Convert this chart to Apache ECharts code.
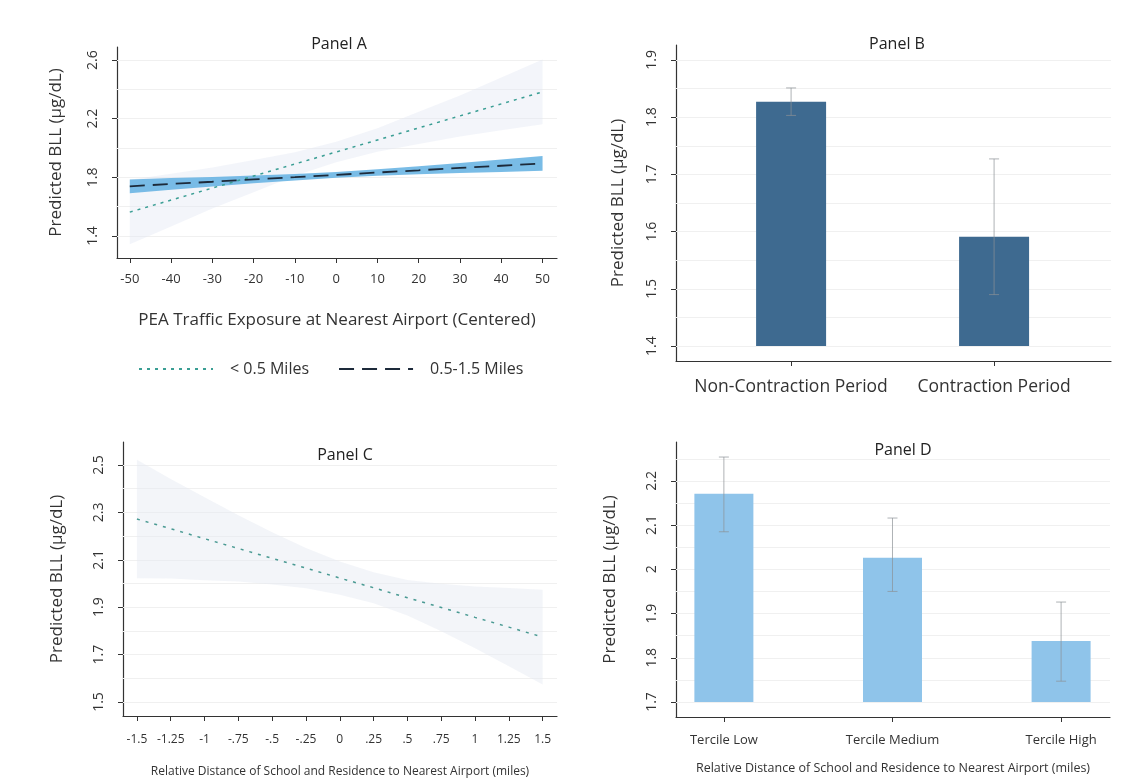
<!DOCTYPE html>
<html>
<head>
<meta charset="utf-8">
<script src="https://cdn.jsdelivr.net/npm/echarts@6.0.0/dist/echarts.min.js"></script>
<style>
html, body { margin: 0; padding: 0; background: #fff; }
#main { width: 1143px; height: 784px; }
</style>
</head>
<body>
<div id="main"></div>
<script>
// Panel A - PEA traffic exposure
var exposureA = [-50, -40, -30, -20, -10, 0, 10, 20, 30, 40, 50];
var nearA = [1.563, 1.645, 1.727, 1.809, 1.891, 1.973, 2.055, 2.137, 2.219, 2.301, 2.383];
var nearLowA = [1.343, 1.465, 1.587, 1.699, 1.811, 1.903, 1.975, 2.027, 2.079, 2.121, 2.163];
var nearHighA = [1.783, 1.825, 1.867, 1.919, 1.971, 2.043, 2.135, 2.247, 2.359, 2.481, 2.603];
var farA = [1.739, 1.755, 1.770, 1.786, 1.801, 1.817, 1.833, 1.848, 1.864, 1.879, 1.895];
var farLowA = [1.692, 1.715, 1.737, 1.759, 1.779, 1.797, 1.811, 1.821, 1.830, 1.837, 1.845];
var farHighA = [1.786, 1.795, 1.803, 1.813, 1.823, 1.837, 1.855, 1.875, 1.898, 1.921, 1.945];
var yTicksA = [1.4, 1.8, 2.2, 2.6];
var gridLinesA = [1.4, 1.6, 1.8, 2.0, 2.2, 2.4, 2.6];

// Panel B - contraction period
var periodsB = ['Non-Contraction Period', 'Contraction Period'];
var bllB = [1.827, 1.591];
var bllLowB = [1.803, 1.49];
var bllHighB = [1.851, 1.727];
var baseB = 1.4;
var yTicksB = [1.4, 1.5, 1.6, 1.7, 1.8, 1.9];
var gridLinesB = [1.4, 1.45, 1.5, 1.55, 1.6, 1.65, 1.7, 1.75, 1.8, 1.85, 1.9];

// Panel C - relative distance
var distanceC = [-1.5, -1.25, -1, -0.75, -0.5, -0.25, 0, 0.25, 0.5, 0.75, 1, 1.25, 1.5];
var distanceLabelsC = ['-1.5', '-1.25', '-1', '-.75', '-.5', '-.25', '0', '.25', '.5', '.75', '1', '1.25', '1.5'];
var bllC = [2.272, 2.231, 2.189, 2.148, 2.106, 2.065, 2.023, 1.982, 1.940, 1.899, 1.857, 1.816, 1.774];
var bllLowC = [2.022, 2.021, 2.014, 2.008, 1.996, 1.980, 1.953, 1.917, 1.865, 1.799, 1.727, 1.651, 1.574];
var bllHighC = [2.522, 2.441, 2.364, 2.288, 2.216, 2.150, 2.093, 2.047, 2.015, 1.999, 1.987, 1.981, 1.974];
var yTicksC = [1.5, 1.7, 1.9, 2.1, 2.3, 2.5];
var gridLinesC = [1.5, 1.6, 1.7, 1.8, 1.9, 2.0, 2.1, 2.2, 2.3, 2.4, 2.5];

// Panel D - terciles
var tercilesD = ['Tercile Low', 'Tercile Medium', 'Tercile High'];
var bllD = [2.171, 2.026, 1.838];
var bllLowD = [2.085, 1.95, 1.747];
var bllHighD = [2.254, 2.116, 1.926];
var baseD = 1.7;
var yTicksD = [1.7, 1.8, 1.9, 2.0, 2.1, 2.2];
var gridLinesD = [1.7, 1.75, 1.8, 1.85, 1.9, 1.95, 2.0, 2.05, 2.1, 2.15, 2.2, 2.25];

var FONT = 'Open Sans';
var yName = 'Predicted BLL (\u03bcg/dL)';
var xNameCD = 'Relative Distance of School and Residence to Nearest Airport (miles)';

function pairs(xs, ys) {
	return xs.map(function(x, i) { return [x, ys[i]]; });
}

var axisLine = { onZero: false, lineStyle: { color: '#333', width: 1.2 } };
var axisTickStyle = { length: 5, lineStyle: { color: '#333' } };

function yAxis(grid, min, max, ticks, gap) {
	return {
		type: 'value', gridIndex: grid, min: min, max: max,
		name: yName, nameLocation: 'middle', nameGap: gap,
		nameTextStyle: { fontSize: 17, color: '#333', fontFamily: FONT },
		axisLine: Object.assign({ show: true }, axisLine),
		axisTick: Object.assign({ show: true, customValues: ticks }, axisTickStyle),
		axisLabel: { customValues: ticks, rotate: 90, margin: 17, fontSize: 14, color: '#333', fontFamily: FONT },
		splitLine: { show: false }
	};
}

function gridSeries(x, y, values) {
	return {
		type: 'line', xAxisIndex: x, yAxisIndex: y, data: [], silent: true,
		markLine: {
			silent: true, symbol: 'none', z: 1, animation: false,
			label: { show: false },
			lineStyle: { color: '#f0f0f0', type: 'solid', width: 1 },
			data: values.map(function(v) { return { yAxis: v }; })
		}
	};
}

// confidence band drawn as one polygon through the axis scales
function bandSeries(x, y, xs, lo, hi, color) {
	return {
		type: 'custom', xAxisIndex: x, yAxisIndex: y, z: 2, silent: true,
		data: xs.map(function(v, i) { return [v, lo[i], hi[i]]; }),
		renderItem: function(params, api) {
			if (params.dataIndex !== 0) return null;
			var pts = [];
			for (var i = 0; i < xs.length; i++) pts.push(api.coord([xs[i], hi[i]]));
			for (var j = xs.length - 1; j >= 0; j--) pts.push(api.coord([xs[j], lo[j]]));
			return { type: 'polygon', shape: { points: pts }, style: { fill: color } };
		}
	};
}

function barSeries(x, y, values, base, width, color) {
	return {
		type: 'custom', xAxisIndex: x, yAxisIndex: y, z: 2, silent: true,
		data: values.map(function(v, i) { return [i + 1, v, base]; }),
		renderItem: function(params, api) {
			var top = api.coord([api.value(0), api.value(1)]);
			var bot = api.coord([api.value(0), api.value(2)]);
			return {
				type: 'rect',
				shape: { x: top[0] - width / 2, y: top[1], width: width, height: bot[1] - top[1] },
				style: { fill: color }
			};
		}
	};
}

function errorSeries(x, y, lo, hi) {
	return {
		type: 'custom', xAxisIndex: x, yAxisIndex: y, z: 3, silent: true,
		data: lo.map(function(v, i) { return [i + 1, v, hi[i]]; }),
		renderItem: function(params, api) {
			var a = api.coord([api.value(0), api.value(2)]);
			var b = api.coord([api.value(0), api.value(1)]);
			var st = { stroke: 'rgba(140,145,150,0.7)', lineWidth: 1 };
			return {
				type: 'group',
				children: [
					{ type: 'line', shape: { x1: a[0], y1: a[1], x2: b[0], y2: b[1] }, style: st },
					{ type: 'line', shape: { x1: a[0] - 5, y1: a[1], x2: a[0] + 5, y2: a[1] }, style: st },
					{ type: 'line', shape: { x1: b[0] - 5, y1: b[1], x2: b[0] + 5, y2: b[1] }, style: st }
				]
			};
		}
	};
}

var titleStyle = { fontSize: 16, fontWeight: 'normal', color: '#222', fontFamily: FONT };

var option = {
	animation: false,
	backgroundColor: '#fff',
	title: [
		{ text: 'Panel A', left: 334, top: 31, textAlign: 'center', textStyle: titleStyle },
		{ text: 'Panel B', left: 892, top: 31, textAlign: 'center', textStyle: titleStyle },
		{ text: 'Panel C', left: 340, top: 442, textAlign: 'center', textStyle: titleStyle },
		{ text: 'Panel D', left: 898, top: 437, textAlign: 'center', textStyle: titleStyle }
	],
	legend: {
		data: ['< 0.5 Miles', '0.5-1.5 Miles'],
		left: 133, top: 356,
		itemWidth: 74, itemHeight: 4, itemGap: 29,
		itemStyle: { opacity: 0 },
		textStyle: { fontSize: 16, color: '#333', fontFamily: FONT, padding: [0, 0, 0, 12] }
	},
	grid: [
		{ left: 117, right: 586, top: 47, bottom: 526 },
		{ left: 676, right: 32, top: 45, bottom: 423 },
		{ left: 123, right: 586, top: 442, bottom: 68 },
		{ left: 676, right: 33, top: 442, bottom: 67 }
	],
	xAxis: [{
		type: 'value', gridIndex: 0, min: -53.1, max: 53.5,
		name: 'PEA Traffic Exposure at Nearest Airport (Centered)',
		nameLocation: 'middle', nameGap: 54,
		nameTextStyle: { fontSize: 17, color: '#333', fontFamily: FONT, verticalAlign: 'top' },
		axisLine: axisLine,
		axisTick: Object.assign({ customValues: exposureA }, axisTickStyle),
		axisLabel: { customValues: exposureA, margin: 15, fontSize: 13, color: '#333', fontFamily: FONT },
		splitLine: { show: false }
	}, {
		type: 'value', gridIndex: 1, min: 0.433, max: 2.576,
		axisLine: axisLine,
		axisTick: Object.assign({ customValues: [1, 2] }, axisTickStyle),
		axisLabel: {
			customValues: [1, 2], margin: 17, fontSize: 17.5, color: '#333', fontFamily: FONT,
			formatter: function(v) { return periodsB[Math.round(v) - 1]; }
		},
		splitLine: { show: false }
	}, {
		type: 'value', gridIndex: 2, min: -1.603, max: 1.606,
		name: xNameCD, nameLocation: 'middle', nameGap: 50,
		nameTextStyle: { fontSize: 12, color: '#333', fontFamily: FONT, verticalAlign: 'top' },
		axisLine: axisLine,
		axisTick: Object.assign({ customValues: distanceC }, axisTickStyle),
		axisLabel: {
			customValues: distanceC, margin: 18, fontSize: 12, color: '#333', fontFamily: FONT,
			formatter: function(v) {
				for (var i = 0; i < distanceC.length; i++) {
					if (Math.abs(distanceC[i] - v) < 1e-6) return distanceLabelsC[i];
				}
				return '';
			}
		},
		splitLine: { show: false }
	}, {
		type: 'value', gridIndex: 3, min: 0.716, max: 3.29,
		name: xNameCD, nameLocation: 'middle', nameGap: 45,
		nameTextStyle: { fontSize: 12.5, color: '#333', fontFamily: FONT, verticalAlign: 'top' },
		axisLine: axisLine,
		axisTick: Object.assign({ customValues: [1, 2, 3] }, axisTickStyle),
		axisLabel: {
			customValues: [1, 2, 3], margin: 17, fontSize: 13, color: '#333', fontFamily: FONT,
			formatter: function(v) { return tercilesD[Math.round(v) - 1]; }
		},
		splitLine: { show: false }
	}],
	yAxis: [
		yAxis(0, 1.25, 2.689, yTicksA, 52),
		yAxis(1, 1.374, 1.926, yTicksB, 49),
		yAxis(2, 1.441, 2.597, yTicksC, 57),
		yAxis(3, 1.666, 2.288, yTicksD, 57)
	],
	series: [
		gridSeries(0, 0, gridLinesA),
		gridSeries(1, 1, gridLinesB),
		gridSeries(2, 2, gridLinesC),
		gridSeries(3, 3, gridLinesD),
		bandSeries(0, 0, exposureA, nearLowA, nearHighA, 'rgba(226,231,242,0.4)'),
		bandSeries(0, 0, exposureA, farLowA, farHighA, 'rgba(98,176,226,0.85)'),
		{
			type: 'line', name: '< 0.5 Miles', xAxisIndex: 0, yAxisIndex: 0, z: 4,
			data: pairs(exposureA, nearA), symbol: 'none', color: '#3a9e94',
			lineStyle: { color: '#3a9e94', width: 1.5, type: [3, 5] }
		},
		{
			type: 'line', name: '0.5-1.5 Miles', xAxisIndex: 0, yAxisIndex: 0, z: 4,
			data: pairs(exposureA, farA), symbol: 'none', color: '#1d2a3a',
			lineStyle: { color: '#1d2a3a', width: 1.8, type: [15, 8] }
		},
		barSeries(1, 1, bllB, baseB, 70, '#3e6a90'),
		errorSeries(1, 1, bllLowB, bllHighB),
		bandSeries(2, 2, distanceC, bllLowC, bllHighC, 'rgba(228,233,242,0.45)'),
		{
			type: 'line', name: 'lineC', xAxisIndex: 2, yAxisIndex: 2, z: 4,
			data: pairs(distanceC, bllC), symbol: 'none', silent: true,
			lineStyle: { color: '#4a9a93', width: 1.5, type: [3, 6] }
		},
		barSeries(3, 3, bllD, baseD, 59, '#8fc4ea'),
		errorSeries(3, 3, bllLowD, bllHighD)
	]
};

var chart = echarts.init(document.getElementById('main'));
chart.setOption(option);
</script>
</body>
</html>
